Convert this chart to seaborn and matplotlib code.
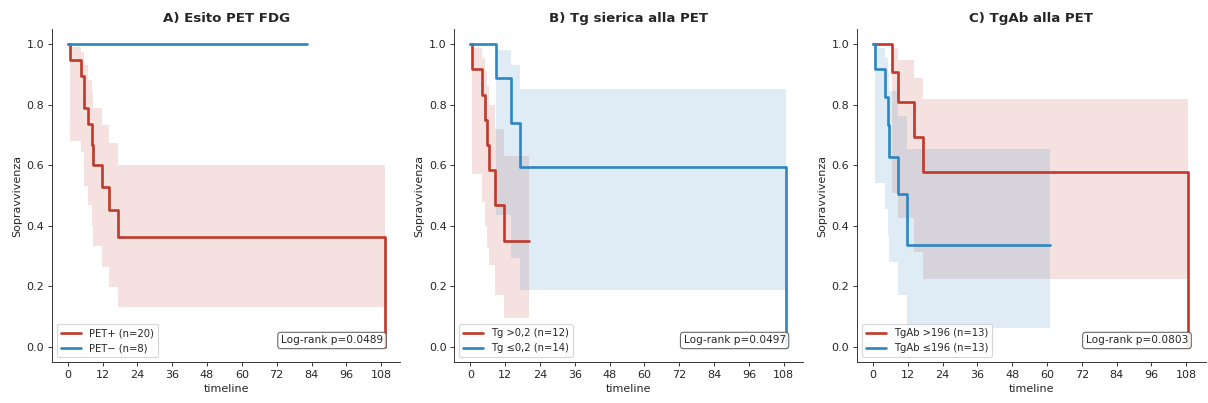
import matplotlib
matplotlib.use("Agg")
import matplotlib.pyplot as plt
import seaborn as sns

#%%
# Kaplan-Meier curves (time, survival, CI lower, CI upper)

red = "#c0392b"
blue = "#2e86c1"

# A) Esito PET FDG
a_pos_t = [0, 0.8, 4.5, 5.6, 6.8, 8.5, 8.8, 11.8, 14.1, 17.4, 109.2]
a_pos_s = [1, 0.947, 0.896, 0.790, 0.737, 0.667, 0.600, 0.527, 0.452, 0.362, 0.0]
a_pos_lo = [1, 0.68, 0.643, 0.53, 0.469, 0.40, 0.334, 0.265, 0.199, 0.133, 0.133]
a_pos_hi = [1, 0.99, 0.975, 0.93, 0.88, 0.84, 0.788, 0.733, 0.672, 0.60, 0.60]

a_neg_t = [0, 82.4]
a_neg_s = [1, 1]
a_neg_lo = [1, 1]
a_neg_hi = [1, 1]

# B) Tg sierica alla PET
b_hi_t = [0, 0.7, 4.0, 5.1, 5.6, 6.6, 8.5, 11.7, 20.3]
b_hi_s = [1, 0.917, 0.833, 0.75, 0.667, 0.583, 0.467, 0.35, 0.35]
b_hi_lo = [1, 0.57, 0.48, 0.40, 0.33, 0.27, 0.17, 0.095, 0.095]
b_hi_hi = [1, 0.986, 0.955, 0.91, 0.86, 0.80, 0.72, 0.63, 0.63]

b_lo_t = [0, 8.7, 13.9, 17.2, 108.8]
b_lo_s = [1, 0.889, 0.740, 0.593, 0.0]
b_lo_lo = [1, 0.436, 0.295, 0.187, 0.187]
b_lo_hi = [1, 0.98, 0.931, 0.851, 0.851]

# C) TgAb alla PET
c_hi_t = [0, 6.6, 8.7, 14.0, 17.2, 108.7]
c_hi_s = [1, 0.907, 0.81, 0.692, 0.577, 0.0]
c_hi_lo = [1, 0.507, 0.425, 0.315, 0.223, 0.223]
c_hi_hi = [1, 0.986, 0.947, 0.889, 0.817, 0.817]

c_lo_t = [0, 0.7, 4.1, 5.2, 5.7, 8.6, 11.8, 61.0]
c_lo_s = [1, 0.916, 0.826, 0.734, 0.628, 0.504, 0.337, 0.337]
c_lo_lo = [1, 0.54, 0.455, 0.37, 0.28, 0.17, 0.063, 0.063]
c_lo_hi = [1, 0.986, 0.953, 0.90, 0.845, 0.762, 0.652, 0.652]

panels = [
    ("A) Esito PET FDG", "Log-rank p=0.0489",
     [("PET+ (n=20)", a_pos_t, a_pos_s, a_pos_lo, a_pos_hi, red),
      ("PET\u2212 (n=8)", a_neg_t, a_neg_s, a_neg_lo, a_neg_hi, blue)]),
    ("B) Tg sierica alla PET", "Log-rank p=0.0497",
     [("Tg >0,2 (n=12)", b_hi_t, b_hi_s, b_hi_lo, b_hi_hi, red),
      ("Tg \u22640,2 (n=14)", b_lo_t, b_lo_s, b_lo_lo, b_lo_hi, blue)]),
    ("C) TgAb alla PET", "Log-rank p=0.0803",
     [("TgAb >196 (n=13)", c_hi_t, c_hi_s, c_hi_lo, c_hi_hi, red),
      ("TgAb \u2264196 (n=13)", c_lo_t, c_lo_s, c_lo_lo, c_lo_hi, blue)]),
]

#%%
sns.set_style("ticks")
plt.rcParams['font.family'] = ['DejaVu Sans']

fig, axes = plt.subplots(1, 3, figsize=(15.1, 5.0375), dpi=80)
fig.subplots_adjust(left=0.043, right=0.998, bottom=0.1014, top=0.9284, wspace=0.155)

for ax, (title, pval, groups) in zip(axes, panels):
    for label, t, s, lo, hi, col in groups:
        ax.fill_between(t, lo, hi, step="post", color=col, alpha=0.15, linewidth=0)
        sns.lineplot(x=t, y=s, ax=ax, color=col, linewidth=2.4, label=label,
                     drawstyle="steps-post", estimator=None, sort=False)

    ax.set_title(title, fontsize=12, fontweight="bold")
    ax.set_xlabel("timeline", fontsize=10)
    ax.set_ylabel("Sopravvivenza", fontsize=10)
    ax.set_xticks(range(0, 109, 12))
    ax.set_yticks([0.0, 0.2, 0.4, 0.6, 0.8, 1.0])
    ax.set_xlim(-5.46, 114.66)
    ax.set_ylim(-0.05, 1.05)
    ax.tick_params(labelsize=10)
    ax.legend(loc="lower left", fontsize=9)
    ax.text(0.95, 0.05, pval, transform=ax.transAxes, ha="right", va="bottom",
            fontsize=9.5, bbox=dict(boxstyle="round,pad=0.3", facecolor="white",
                                    edgecolor="0.35", alpha=0.9))
    sns.despine(ax=ax)

fig.savefig("out.png", dpi=80)
